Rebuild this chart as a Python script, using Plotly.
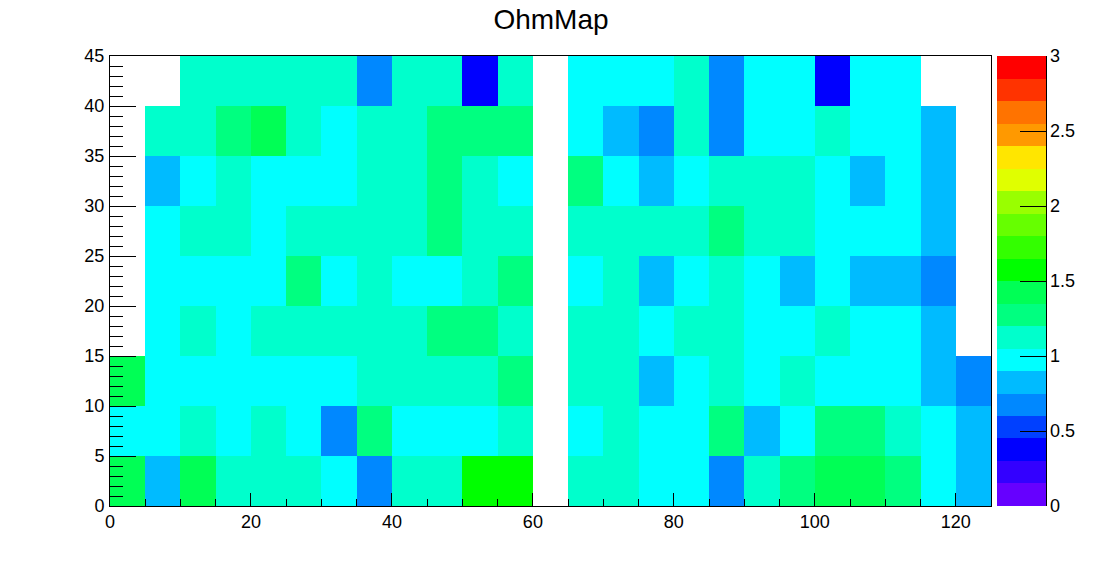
import plotly.graph_objects as go

_ = None
x_centers = [2.5 + 5 * i for i in range(25)]
y_centers = [2.5 + 5 * i for i in range(9)]
row_0_5 = [1.43, .83, 1.43, 1.13, 1.13, 1.13, .98, .68, 1.13, 1.13, 1.58, 1.58, _, 1.13, 1.13, .98, .98, .68, 1.13, 1.28, 1.43, 1.43, 1.28, .98, .83]
row_5_10 = [.98, .98, 1.13, .98, 1.13, .98, .68, 1.28, .98, .98, .98, 1.13, _, .98, 1.13, .98, .98, 1.28, .83, .98, 1.28, 1.28, 1.13, .98, .83]
row_10_15 = [1.43, .98, .98, .98, .98, .98, .98, 1.13, 1.13, 1.13, 1.13, 1.28, _, 1.13, 1.13, .83, .98, 1.13, .98, 1.13, .98, .98, .98, .83, .68]
row_15_20 = [_, .98, 1.13, .98, 1.13, 1.13, 1.13, 1.13, 1.13, 1.28, 1.28, 1.13, _, 1.13, 1.13, .98, 1.13, 1.13, .98, .98, 1.13, .98, .98, .83, _]
row_20_25 = [_, .98, .98, .98, .98, 1.28, .98, 1.13, .98, .98, 1.13, 1.28, _, .98, 1.13, .83, .98, 1.13, .98, .83, .98, .83, .83, .68, _]
row_25_30 = [_, .98, 1.13, 1.13, .98, 1.13, 1.13, 1.13, 1.13, 1.28, 1.13, 1.13, _, 1.13, 1.13, 1.13, 1.13, 1.28, 1.13, 1.13, .98, .98, .98, .83, _]
row_30_35 = [_, .83, .98, 1.13, .98, .98, .98, 1.13, 1.13, 1.28, 1.13, .98, _, 1.28, .98, .83, .98, 1.13, 1.13, 1.13, .98, .83, .98, .83, _]
row_35_40 = [_, 1.13, 1.13, 1.28, 1.43, 1.13, .98, 1.13, 1.13, 1.28, 1.28, 1.28, _, .98, .83, .68, 1.13, .68, .98, .98, 1.13, .98, .98, .83, _]
row_40_45 = [_, _, 1.13, 1.13, 1.13, 1.13, 1.13, .68, 1.13, 1.13, .38, 1.13, _, .98, .98, .98, 1.13, .68, .98, .98, .38, .98, .98, _, _]
palette = ["#6600ff", "#3300ff", "#0000ff", "#0040ff", "#0088ff", "#00bbff", "#00ffff", "#00ffcc", "#00ff80", "#00ff55",
           "#00ff00", "#33ff00", "#66ff00", "#99ff00", "#e0ff00", "#ffe600", "#ff9900", "#ff7300", "#ff3300", "#ff0000"]
cbar_ticks = [0, 0.5, 1, 1.5, 2, 2.5, 3]

scale = []
for i, c in enumerate(palette):
    scale += [[i / len(palette), c], [(i + 1) / len(palette), c]]

FONT = "Liberation Sans"
fig = go.Figure(go.Heatmap(
    x=x_centers, y=y_centers,
    z=[row_0_5, row_5_10, row_10_15, row_15_20, row_20_25, row_25_30, row_30_35, row_35_40, row_40_45],
    zmin=0, zmax=3, colorscale=scale, hoverongaps=False,
    colorbar=dict(x=1.007, xanchor="left", xpad=0, y=0, yanchor="bottom", ypad=0,
                  len=450, lenmode="pixels", thickness=49, thicknessmode="pixels",
                  outlinewidth=0, tickmode="array", tickvals=cbar_ticks,
                  ticktext=[str(t) for t in cbar_ticks],
                  ticks="inside", ticklen=26, tickwidth=1, tickcolor="black",
                  tickfont=dict(family=FONT, size=18, color="black")),
))
axis = dict(showgrid=False, zeroline=False, showline=True, linecolor="black", linewidth=1, mirror=True,
            ticks="inside", tickcolor="black", tickwidth=1, tick0=0,
            tickfont=dict(family=FONT, size=18, color="black"))
fig.update_xaxes(**axis, range=[0, 125], dtick=20, ticklen=13, ticklabelstandoff=-1,
                 minor=dict(dtick=5, ticks="inside", ticklen=7, tickcolor="black", tickwidth=1, showgrid=False))
fig.update_yaxes(**axis, range=[0, 45], dtick=5, ticklen=26, ticklabelstandoff=1,
                 minor=dict(dtick=1, ticks="inside", ticklen=13, tickcolor="black", tickwidth=1, showgrid=False))
fig.add_shape(type="line", xref="paper", yref="paper", x0=1.063, x1=1.063, y0=0, y1=1,
              line=dict(color="black", width=1))
fig.update_layout(
    width=1102, height=562, margin=dict(l=110, r=111, t=56, b=56, autoexpand=False),
    plot_bgcolor="white", paper_bgcolor="white",
    title=dict(text="OhmMap", x=0.5, xanchor="center", y=0.965, yanchor="middle",
               font=dict(family=FONT, size=28, color="black")),
)
fig.write_html("out.html", post_script="document.body.style.margin='0';", config=dict(displayModeBar=False))
